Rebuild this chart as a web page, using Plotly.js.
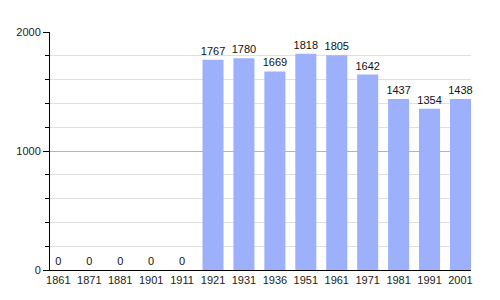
<!DOCTYPE html>
<html><head><meta charset="utf-8">
<script src="https://cdn.plot.ly/plotly-3.0.1.min.js"></script>
<style>html,body{margin:0;padding:0;background:#fff}#c{width:500px;height:300px}</style>
</head><body><div id="c"></div>
<script>
const years = ["1861","1871","1881","1901","1911","1921","1931","1936","1951","1961","1971","1981","1991","2001"];
const population = [0,0,0,0,0,1767,1780,1669,1818,1805,1642,1437,1354,1438];
const yTicks = [0,1000,2000];

const trace = {
  type: 'bar',
  x: years,
  y: population,
  marker: {color: '#9cb0fb'},
  text: population.map(String),
  textposition: 'outside',
  constraintext: 'none',
  textfont: {family: 'Liberation Sans, Arial, sans-serif', size: 11, color: '#111'},
  cliponaxis: false,
  hoverinfo: 'none'
};

const layout = {
  width: 500, height: 300,
  margin: {l: 50, r: 29, t: 32, b: 30},
  paper_bgcolor: '#fff', plot_bgcolor: '#fff',
  showlegend: false,
  bargap: 0.32,
  font: {family: 'Liberation Sans, Arial, sans-serif', size: 11, color: '#222'},
  xaxis: {
    type: 'category',
    range: [-0.27, 13.34],
    showline: true, linecolor: '#000', linewidth: 1,
    ticks: '', showgrid: false, zeroline: false,
    tickfont: {size: 11, color: '#222'}
  },
  yaxis: {
    range: [0, 2000],
    tickvals: yTicks,
    ticks: 'outside', ticklen: 6, tickcolor: '#000',
    showline: true, linecolor: '#000', linewidth: 1,
    showgrid: true, gridcolor: '#b4b4b4', gridwidth: 1,
    zeroline: false,
    minor: {dtick: 200, showgrid: true, gridcolor: '#e0e0e0', ticks: 'outside', ticklen: 4, tickcolor: '#000'},
    tickfont: {size: 11, color: '#222'}
  }
};

Plotly.newPlot('c', [trace], layout, {staticPlot: true, displayModeBar: false});
</script>
</body></html>
